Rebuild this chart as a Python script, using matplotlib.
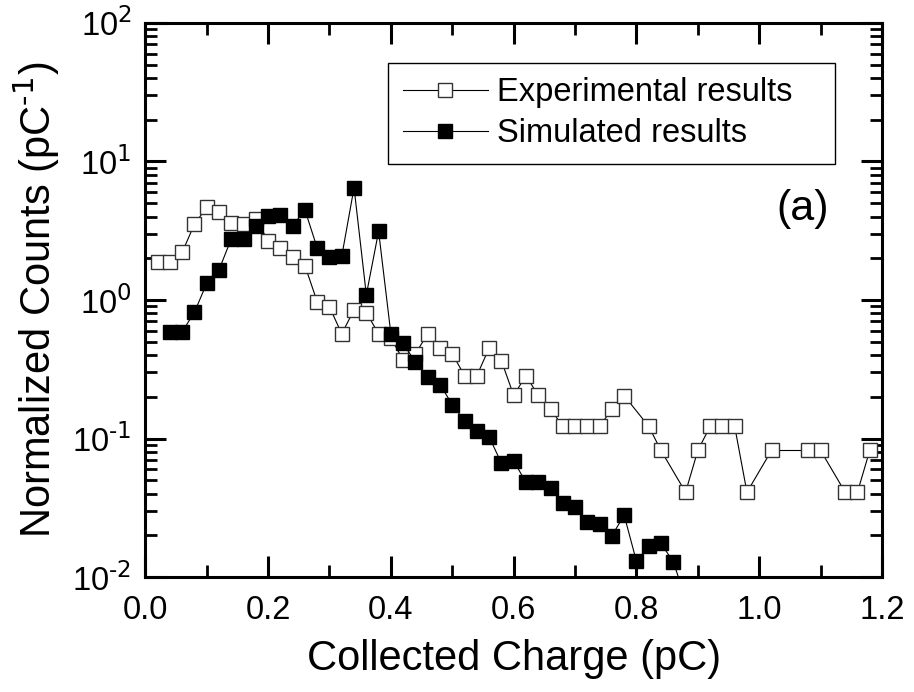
import math
import matplotlib.pyplot as plt
from matplotlib.ticker import LogLocator, FixedLocator, FuncFormatter, NullFormatter

plt.rcParams['font.family'] = ['Liberation Sans', 'DejaVu Sans']
plt.rcParams['mathtext.default'] = 'regular'

# experimental histogram (open squares)
exp_x = [0.02, 0.04, 0.06, 0.08, 0.10, 0.12, 0.14, 0.16, 0.18, 0.20,
         0.22, 0.24, 0.26, 0.28, 0.30, 0.32, 0.34, 0.36, 0.38, 0.40,
         0.42, 0.44, 0.46, 0.48, 0.50, 0.52, 0.54, 0.56, 0.58, 0.60,
         0.62, 0.64, 0.66, 0.68, 0.70, 0.72, 0.74, 0.76, 0.78, 0.82,
         0.84, 0.88, 0.90, 0.92, 0.94, 0.96, 0.98, 1.02, 1.08, 1.10,
         1.14, 1.16, 1.18]
exp_y = [1.89, 1.89, 2.21, 3.52, 4.67, 4.34, 3.60, 3.54, 3.85, 2.67,
         2.36, 2.05, 1.77, 0.97, 0.89, 0.57, 0.85, 0.81, 0.57, 0.53,
         0.37, 0.41, 0.57, 0.45, 0.41, 0.284, 0.284, 0.45, 0.365, 0.205,
         0.284, 0.205, 0.163, 0.1225, 0.1225, 0.1225, 0.1225, 0.163, 0.204, 0.1225,
         0.082, 0.041, 0.082, 0.1225, 0.1225, 0.1225, 0.041, 0.082, 0.082, 0.082,
         0.041, 0.041, 0.082]

# simulated histogram (filled squares)
sim_x = [0.04, 0.06, 0.08, 0.10, 0.12, 0.14, 0.16, 0.18, 0.20, 0.22,
         0.24, 0.26, 0.28, 0.30, 0.32, 0.34, 0.36, 0.38, 0.40, 0.42,
         0.44, 0.46, 0.48, 0.50, 0.52, 0.54, 0.56, 0.58, 0.60, 0.62,
         0.64, 0.66, 0.68, 0.70, 0.72, 0.74, 0.76, 0.78, 0.80, 0.82,
         0.84, 0.86, 0.88]
sim_y = [0.59, 0.59, 0.815, 1.32, 1.65, 2.76, 2.76, 3.41, 4.06, 4.10,
         3.44, 4.47, 2.37, 2.03, 2.07, 6.47, 1.09, 3.13, 0.569, 0.487,
         0.355, 0.277, 0.245, 0.176, 0.134, 0.113, 0.103, 0.0665, 0.069, 0.0483,
         0.0483, 0.0437, 0.0342, 0.0319, 0.0251, 0.0241, 0.0199, 0.028, 0.013, 0.0168,
         0.0175, 0.0129, 0.007]

fig = plt.figure(figsize=(9.14, 6.92), dpi=100)
ax = fig.add_axes([0.159, 0.166, 0.806, 0.801])

ax.plot(exp_x, exp_y, '-s', color='black', lw=0.8, ms=9.5, mfc='white',
        mec='#333333', mew=1.0, label='Experimental results   ')
ax.plot(sim_x, sim_y, '-s', color='black', lw=0.8, ms=9.5, mfc='black',
        mec='black', mew=1.0, label='Simulated results')

ax.set_yscale('log')
ax.set_xlim(0, 1.2)
ax.set_ylim(1e-2, 1e2)

ax.xaxis.set_major_locator(FixedLocator([0.0, 0.2, 0.4, 0.6, 0.8, 1.0, 1.2]))
ax.xaxis.set_minor_locator(FixedLocator([0.1, 0.3, 0.5, 0.7, 0.9, 1.1]))
ax.xaxis.set_major_formatter(FuncFormatter(lambda v, p: f'{v:.1f}'))
ax.yaxis.set_major_locator(LogLocator(base=10, numticks=10))
ax.yaxis.set_minor_locator(LogLocator(base=10, subs=range(2, 10), numticks=20))
ax.yaxis.set_minor_formatter(NullFormatter())
ax.yaxis.set_major_formatter(FuncFormatter(
    lambda v, p: r'$10^{\text{%d}}$' % round(math.log10(v))))

ax.tick_params(which='both', direction='in', top=True, right=True, width=2.2)
ax.tick_params(which='major', length=15, labelsize=23.5)
ax.tick_params(which='minor', length=8.5, width=2)
ax.tick_params(axis='x', which='major', pad=13)
ax.tick_params(axis='y', which='major', pad=10)

for s in ax.spines.values():
    s.set_linewidth(2.2)

ax.set_xlabel('Collected Charge (pC)', fontsize=30, labelpad=9)
ax.set_ylabel(r'Normalized Counts (pC$^{\text{-1}}$)', fontsize=30, labelpad=7)

leg = ax.legend(loc='upper right', bbox_to_anchor=(0.936, 0.928), borderaxespad=0,
                fontsize=23.5, fancybox=False, edgecolor='black', framealpha=1,
                handlelength=2.6, handletextpad=0.3, labelspacing=0.3,
                borderpad=0.45, markerscale=1.05)
leg.get_frame().set_linewidth(1.0)

ax.text(0.892, 0.665, '(a)', transform=ax.transAxes, fontsize=31,
        ha='center', va='center')

fig.savefig('out.png', dpi=100)
